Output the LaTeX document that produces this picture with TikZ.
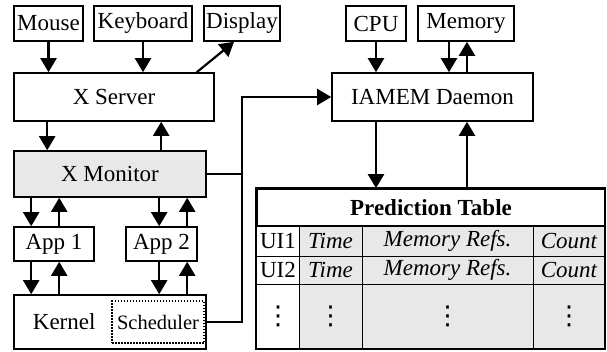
\documentclass[tikz,border=0pt]{standalone}
\usepackage{fontspec}
\newfontfamily\timesfont{Liberation Serif}
\newfontfamily\dotsfont{DejaVu Sans}
\usetikzlibrary{arrows.meta}
\newcommand{\tdots}{{\dotsfont\fontsize{26}{30}\selectfont ⋮}}

\begin{document}
\begin{tikzpicture}[x=1pt,y=-1pt,>={Triangle[length=14pt,width=16pt]},
	font=\timesfont\fontsize{23}{27}\selectfont,
	box/.style={draw,line width=1.6pt,inner sep=0pt},
	arr/.style={->,line width=2.2pt}]
	\useasboundingbox (0,0) rectangle (607,351);
	% devices
	\node[box,minimum width=69pt,minimum height=35pt] (mouse) at (48.5,23.5) {Mouse};
	\node[box,minimum width=98pt,minimum height=35pt] (keyboard) at (143,23.5) {Keyboard};
	\node[box,minimum width=76pt,minimum height=35pt] (display) at (242,23.5) {Display};
	\node[box,minimum width=60pt,minimum height=35pt] (cpu) at (376,23.5) {CPU};
	\node[box,minimum width=96pt,minimum height=35pt] (memory) at (466,23.5) {Memory};
	% main blocks
	\node[box,minimum width=200pt,minimum height=48pt] (xserver) at (114,97) {X Server};
	\node[box,minimum width=201pt,minimum height=48pt] (iamem) at (432.5,97) {IAMEM Daemon};
	\node[box,fill=black!9,minimum width=192pt,minimum height=46pt] (xmon) at (110,174) {X Monitor};
	\node[box,minimum width=80pt,minimum height=34pt] (app1) at (54,244) {App 1};
	\node[box,minimum width=71pt,minimum height=34pt] (app2) at (161.5,244) {App 2};
	\node[box,minimum width=192pt,minimum height=54pt] (kernel) at (110,322) {};
	\node (kerneltext) at ([xshift=51pt]kernel.west) {Kernel};
	\node[draw,line width=1.5pt,dash pattern=on 1.5pt off 1.5pt,inner sep=0pt,
		minimum width=92pt,minimum height=42pt,font=\timesfont\fontsize{20.5}{24}\selectfont] (sched) at (158,322) {Scheduler};
	% prediction table
	\fill[black!9] (299,226) rectangle (605,349);
	\foreach \y in {256,284} \draw[line width=0.9pt] (257,\y) -- (605,\y);
	\foreach \x in {299,362,533} \draw[line width=0.9pt] (\x,226) -- (\x,349);
	\node[box,minimum width=348pt,minimum height=37pt] (ptitle) at (431,207.5) {\bfseries Prediction Table};
	\draw[line width=1.6pt] (ptitle.north west) rectangle (605,349);
	\node (ui1) at (278,241) {UI1};
	\node (time1) at (330.5,241) {\itshape Time};
	\node (refs1) at (447.5,241) {\itshape Memory Refs.};
	\node (count1) at (569,241) {\itshape Count};
	\node (ui2) at (278,270) {UI2};
	\node (time2) at (330.5,270) {\itshape Time};
	\node (refs2) at (447.5,270) {\itshape Memory Refs.};
	\node (count2) at (569,270) {\itshape Count};
	\foreach \x in {278,330.5,447.5,569} \node at (\x,316) {\tdots};
	% connectors
	\draw[arr] (mouse.south) -- (mouse.south |- xserver.north);
	\draw[arr] (keyboard.south) -- (keyboard.south |- xserver.north);
	\draw[arr] ([xshift=-18pt]xserver.north east) -- ([xshift=-8pt]display.south);
	\draw[arr] ([xshift=34pt]xserver.south west) -- ([xshift=34pt]xmon.north west);
	\draw[arr] ([xshift=148pt]xmon.north west) -- ([xshift=148pt]xserver.south west);
	\draw[arr] ([xshift=18pt]xmon.south west) -- ([xshift=18pt]app1.north west);
	\draw[arr] ([xshift=46pt]app1.north west) -- ([xshift=46pt]xmon.south west);
	\draw[arr] ([xshift=34pt]app2.north west |- xmon.south) -- ([xshift=34pt]app2.north west);
	\draw[arr] ([xshift=62pt]app2.north west) -- ([xshift=62pt]app2.north west |- xmon.south);
	\draw[arr] ([xshift=18pt]app1.south west) -- ([xshift=18pt]kernel.north west);
	\draw[arr] ([xshift=46pt]kernel.north west) -- ([xshift=46pt]app1.south west);
	\draw[arr] ([xshift=34pt]app2.south west) -- ([xshift=34pt]app2.south west |- kernel.north);
	\draw[arr] ([xshift=62pt]app2.south west |- kernel.north) -- ([xshift=62pt]app2.south west);
	\draw[arr] (cpu.south) -- (cpu.south |- iamem.north);
	\draw[arr] ([xshift=-17pt]memory.south) -- ([xshift=-17pt]memory.south |- iamem.north);
	\draw[arr] ([xshift=1pt]memory.south |- iamem.north) -- ([xshift=1pt]memory.south);
	\draw[arr] (cpu.south |- iamem.south) -- (cpu.south |- ptitle.north);
	\draw[arr] ([xshift=1pt]memory.south |- ptitle.north) -- ([xshift=1pt]memory.south |- iamem.south);
	\coordinate (bend) at (242,97);
	\draw[arr] (sched.east) -| (bend) -- (iamem.west);
	\draw[line width=2.2pt] (xmon.east) -- (xmon.east -| bend);
\end{tikzpicture}
\end{document}
